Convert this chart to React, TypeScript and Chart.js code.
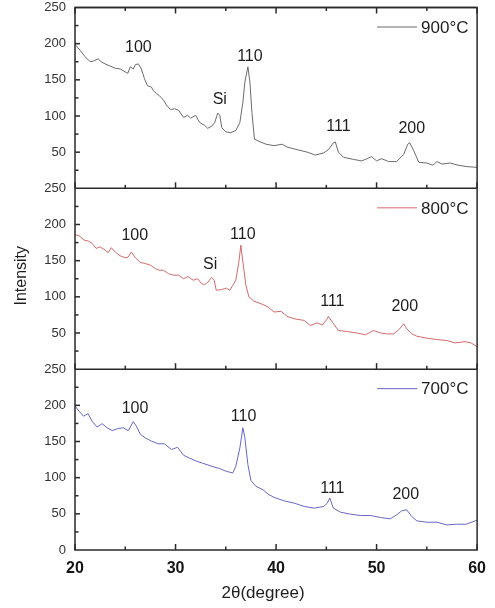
import React, { useEffect, useRef } from "react";
import { Chart, registerables } from "chart.js";

Chart.register(...registerables);

const FONT = "'Liberation Sans', Arial, sans-serif";

// ---- data ----
const x900 = [20.0,20.5,21.0,21.5,21.85,22.3,22.6,23.0,23.5,24.0,24.5,25.0,25.25,25.5,25.8,26.0,26.3,26.6,26.9,27.2,27.6,27.8,28.1,28.4,28.8,29.1,29.5,29.9,30.3,30.8,31.2,31.5,32.0,32.4,32.9,33.2,33.6,33.9,34.2,34.4,34.6,35.0,35.5,36.0,36.4,36.7,36.9,37.2,37.4,37.6,37.85,38.3,39.0,39.8,40.6,41.1,42.1,43.1,43.9,44.75,45.25,45.7,45.9,46.2,46.7,47.7,48.5,49.0,49.5,50.0,50.5,51.2,52.0,52.7,53.1,53.3,53.7,54.2,55.0,55.6,56.0,56.5,57.3,58.1,59.0,60.0];
const y900 = [199,191,182,175,176,179,175,172,169,166,165,161,159,168,165,171,172,165,152,142,140,135,131,128,122,115,109,110,108,98,101,97,101,91,87,83,86,91,104,101,84,78,77,80,91,119,147,168,147,105,68,65,61,59,61,57,53.5,50,46,49,54,63,64,50,43,40,38,40.5,44,38,41,37,37,47,61,63,52,36,35,32,37,33.5,35,32,30,29];

const x800 = [20.0,20.4,20.9,21.35,21.7,22.1,22.5,23.0,23.3,23.6,24.0,24.5,25.0,25.3,25.6,26.0,26.5,27.0,27.5,28.0,28.35,28.8,29.3,29.8,30.3,30.8,31.25,31.75,32.2,32.6,32.9,33.2,33.6,33.85,34.05,34.55,35.05,35.4,35.7,36.0,36.3,36.5,36.7,37.0,37.3,37.8,38.5,39.2,39.8,40.5,41.1,41.8,42.8,43.4,44.1,44.6,45.1,45.2,45.6,46.2,47.1,48.05,48.9,49.7,50.4,51.0,51.7,52.3,52.7,53.0,53.5,54.0,55.0,56.0,57.0,57.8,58.8,59.4,59.9,60.0];
const y800 = [186,184.5,178.5,177,174,167,169,164.6,161,168,162,156.7,154,155,162,154,147.5,146,143.8,139,136.8,136.8,132,130,130,125,128,123,125,118,117,120,127,123,109,110,112,109,116,123,148,171.5,148,116,100,94,90.5,86,79,80,73,69.7,67.4,60.4,64,61,69.7,73,65,53.5,52,50,47.5,53.5,50,48.8,48.8,55.8,62.7,55.8,48.8,45.6,42.8,41,39.6,36.3,38,36.3,32,30];

const x700 = [20.0,20.4,20.85,21.3,21.7,22.2,22.7,23.2,23.7,24.3,24.8,25.3,25.8,26.1,26.5,27.0,27.6,28.3,28.9,29.6,30.2,30.8,31.4,32.1,32.7,33.6,34.4,35.05,35.7,36.0,36.4,36.7,36.9,37.2,37.5,38.0,38.7,39.2,39.8,40.8,41.8,42.8,43.8,44.75,45.1,45.35,45.7,46.4,47.4,48.4,49.4,50.4,51.35,52.0,52.5,53.0,53.5,54.0,55.0,56.0,57.0,57.95,58.9,59.8,60.0];
const y700 = [199,192,185,188.5,178,170,174.6,169,165,168,169,165,177.4,171.3,160,155,150.5,146.8,146.8,139,142,131,127,122.7,120,115.8,112.5,108.8,106.5,115.8,141,169,155,118,96,88,83.3,77.3,72.7,68,64.8,60.2,57.9,60.2,64.8,71.8,57.9,52.3,49.5,47.7,47.7,44.9,43.1,48.6,54.2,55.6,46.3,40.3,38.4,38.4,34.7,35.6,35.6,40.3,41];

const seriesNames = ["900°C", "800°C", "700°C"];
const seriesColors = ["#6b6b6b", "#d46a6c", "#6767c4"];
const axisIds = ["y900", "y800", "y700"];

const xTicks = [20, 30, 40, 50, 60];
const xMinorTicks = [25, 35, 45, 55];
const yTicks = [50, 100, 150, 200];
const yMinorTicks = [25, 75, 125, 175, 225];

const annText900 = ["100", "Si", "110", "111", "200"];
const annX900 = [26.3, 34.4, 37.4, 46.2, 53.5];
const annY900 = [194, 122, 182, 85, 82];

const annText800 = ["100", "Si", "110", "111", "200"];
const annX800 = [25.95, 33.45, 36.7, 45.6, 52.8];
const annY800 = [184, 145, 186, 93, 87];

const annText700 = ["100", "110", "111", "200"];
const annX700 = [25.97, 36.77, 45.6, 52.9];
const annY700 = [196, 184, 85, 77];

const xTitle = "2θ(degree)";
const yTitle = "Intensity";

const toPts = (xs: number[], ys: number[]) => xs.map((x, i) => ({ x, y: ys[i] }));

const annotations = [
  { text: annText900, xs: annX900, ys: annY900 },
  { text: annText800, xs: annX800, ys: annY800 },
  { text: annText700, xs: annX700, ys: annY700 },
];

const decorPlugin = {
  id: "decor",
  afterDatasetsDraw(chart: any) {
    const ctx: CanvasRenderingContext2D = chart.ctx;
    const xs = chart.scales.x;
    const { left, right, top, bottom } = chart.chartArea;
    const panels = axisIds.map((id) => chart.scales[id]);
    ctx.save();
    ctx.strokeStyle = "#2a2a2a";
    ctx.lineWidth = 1.5;
    const line = (x1: number, y1: number, x2: number, y2: number) => {
      ctx.beginPath();
      ctx.moveTo(x1, y1);
      ctx.lineTo(x2, y2);
      ctx.stroke();
    };
    ctx.strokeRect(left, top, right - left, bottom - top);
    // top edge ticks (pointing down)
    xTicks.forEach((v) => { const px = xs.getPixelForValue(v); line(px, top, px, top + 6); });
    xMinorTicks.forEach((v) => { const px = xs.getPixelForValue(v); line(px, top, px, top + 3.5); });
    panels.forEach((s: any, i: number) => {
      line(left, s.top, right, s.top);
      xTicks.forEach((v) => { const px = xs.getPixelForValue(v); line(px, s.bottom, px, s.bottom - 6); });
      xMinorTicks.forEach((v) => { const px = xs.getPixelForValue(v); line(px, s.bottom, px, s.bottom - 3.5); });
      yTicks.forEach((v) => { const py = s.getPixelForValue(v); line(left, py, left + 5, py); });
      yMinorTicks.forEach((v) => { const py = s.getPixelForValue(v); line(left, py, left + 3.5, py); });

      // annotations
      const a = annotations[i];
      ctx.fillStyle = "#1e1e1e";
      ctx.font = `16px ${FONT}`;
      ctx.textAlign = "center";
      ctx.textBaseline = "middle";
      a.text.forEach((t, k) => {
        ctx.fillText(t, xs.getPixelForValue(a.xs[k]), s.getPixelForValue(a.ys[k]));
      });

      // legend
      const ly = s.top + 19.5;
      ctx.strokeStyle = seriesColors[i];
      ctx.lineWidth = 1;
      line(right - 100, ly, right - 60, ly);
      ctx.strokeStyle = "#2a2a2a";
      ctx.lineWidth = 1.5;
      ctx.textAlign = "left";
      ctx.fillStyle = "#1e1e1e";
      ctx.font = `17px ${FONT}`;
      ctx.fillText(seriesNames[i], right - 56, ly + 1);
    });

    // axis titles
    ctx.fillStyle = "#1e1e1e";
    ctx.font = `17px ${FONT}`;
    ctx.textAlign = "center";
    ctx.textBaseline = "middle";
    ctx.fillText(xTitle, (left + right) / 2 - 13, 593);
    ctx.save();
    ctx.translate(21.5, (top + bottom) / 2 - 3);
    ctx.rotate(-Math.PI / 2);
    ctx.font = `16px ${FONT}`;
    ctx.fillText(yTitle, 0, 0);
    ctx.restore();
    ctx.restore();
  },
};

export default function App() {
  const ref = useRef<HTMLCanvasElement | null>(null);
  useEffect(() => {
    if (!ref.current) return;
    const yAxis = (hideZero: boolean) => ({
      type: "linear",
      position: "left",
      stack: "panels",
      stackWeight: 1,
      min: 0,
      max: 250,
      ticks: {
        stepSize: 50,
        padding: 9,
        color: "#333",
        font: { family: FONT, size: 13 },
        callback: (v: any) => (hideZero && v === 0 ? "" : String(v)),
      },
      grid: { display: false, drawTicks: false },
      border: { display: false },
      afterFit: (s: any) => {
        s.width = 75;
        s.paddingTop = 7.5;
        s.paddingBottom = 0;
      },
    });
    const chart = new Chart(ref.current, {
      type: "line",
      data: {
        datasets: [0, 1, 2].map((i) => ({
          label: seriesNames[i],
          data: i === 0 ? toPts(x900, y900) : i === 1 ? toPts(x800, y800) : toPts(x700, y700),
          borderColor: seriesColors[i],
          borderWidth: 1,
          pointRadius: 0,
          tension: 0,
          yAxisID: axisIds[i],
        })),
      },
      options: {
        animation: false,
        responsive: false,
        devicePixelRatio: 1,
        layout: { padding: { top: 0, right: 16, left: 0, bottom: 0 } },
        plugins: { legend: { display: false }, tooltip: { enabled: false } },
        scales: {
          x: {
            type: "linear",
            position: "bottom",
            min: 20,
            max: 60,
            ticks: {
              stepSize: 10,
              padding: 9,
              color: "#151515",
              font: { family: FONT, size: 16, weight: "bold" },
            },
            grid: { display: false, drawTicks: false },
            border: { display: false },
            afterFit: (s: any) => { s.height = 58; },
          },
          // stacked panels: first defined is placed at the bottom
          y700: yAxis(false),
          y800: yAxis(true),
          y900: yAxis(true),
        } as any,
      },
      plugins: [decorPlugin],
    } as any);
    return () => chart.destroy();
  }, []);
  return (
    <div style={{ position: "absolute", left: 0, top: 0, width: 495, height: 608, background: "#fff" }}>
      <canvas ref={ref} width={495} height={608} />
    </div>
  );
}
